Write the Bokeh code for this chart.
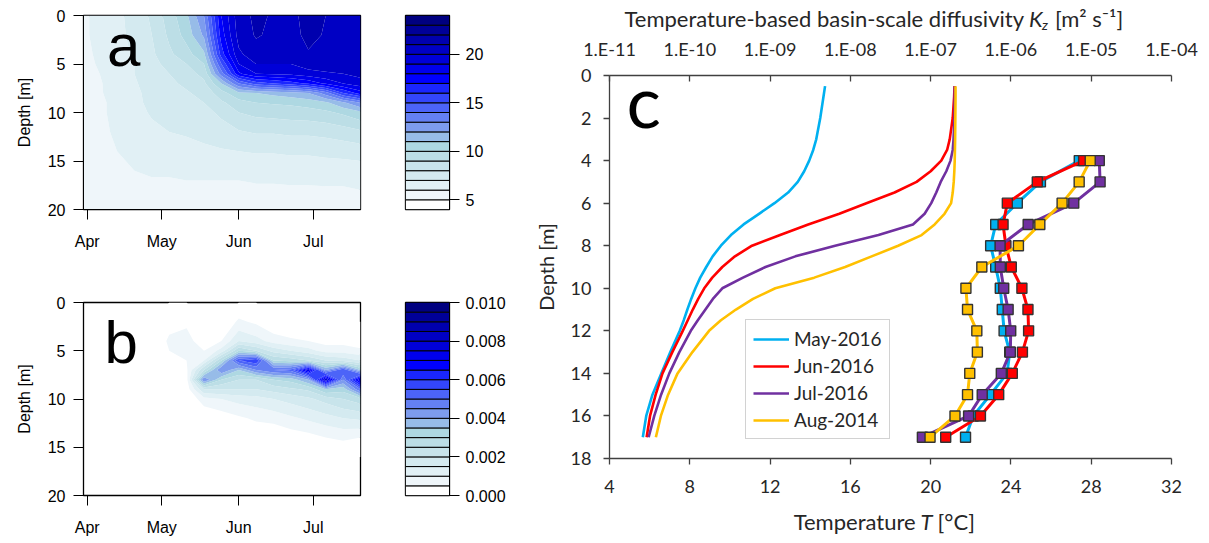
import numpy as np
import pandas as pd
from bokeh.plotting import figure
from bokeh.layouts import row, column
from bokeh.models import (Range1d, LogScale, LogAxis, FixedTicker, CustomJSTickFormatter,
                          Legend, LegendItem, Label, DatetimeTickFormatter, NumeralTickFormatter)
from bokeh.embed import file_html
from bokeh.resources import INLINE

# ---------------- data: panels a and b (time x depth fields) ----------------
dates_ab = ["2016-03-30", "2016-04-06", "2016-04-13", "2016-04-20", "2016-04-27",
            "2016-05-04", "2016-05-11", "2016-05-18", "2016-05-25", "2016-06-01",
            "2016-06-08", "2016-06-15", "2016-06-22", "2016-06-29", "2016-07-06",
            "2016-07-13", "2016-07-20"]
month_ticks = ["2016-04-01", "2016-05-01", "2016-06-01", "2016-07-01"]

depth_a = [0, 2, 4, 5, 6, 7, 8, 9, 10, 12, 14, 16, 18, 20]
# water temperature [degC], one list per date (values at depth_a)
temp_a = [
    [5.8, 5.8, 5.7, 5.7, 5.6, 5.6, 5.5, 5.5, 5.5, 5.4, 5.4, 5.3, 5.3, 5.2],
    [6.3, 6.3, 6.2, 6.1, 6.0, 5.9, 5.9, 5.8, 5.8, 5.7, 5.6, 5.5, 5.4, 5.3],
    [6.8, 6.8, 6.7, 6.6, 6.6, 6.5, 6.4, 6.3, 6.3, 6.2, 6.0, 5.8, 5.6, 5.4],
    [7.3, 7.2, 7.1, 7.0, 7.0, 6.9, 6.8, 6.8, 6.7, 6.5, 6.3, 6.0, 5.7, 5.5],
    [8.2, 8.0, 7.8, 7.6, 7.5, 7.4, 7.3, 7.2, 7.1, 6.8, 6.5, 6.1, 5.8, 5.6],
    [9.5, 9.2, 8.8, 8.4, 8.0, 7.8, 7.6, 7.4, 7.3, 7.0, 6.6, 6.1, 5.8, 5.6],
    [10.8, 10.4, 9.6, 9.0, 8.6, 8.2, 7.9, 7.7, 7.5, 7.1, 6.7, 6.2, 5.8, 5.6],
    [13.0, 12.2, 10.8, 10.0, 9.3, 8.8, 8.3, 8.0, 7.7, 7.3, 6.8, 6.2, 5.8, 5.6],
    [18.0, 17.5, 16.5, 15.0, 13.5, 11.0, 9.6, 8.8, 8.2, 7.6, 6.9, 6.2, 5.8, 5.6],
    [20.6, 20.4, 19.8, 19.0, 17.8, 14.0, 10.8, 9.6, 9.0, 7.9, 7.0, 6.2, 5.8, 5.6],
    [21.2, 21.1, 20.6, 20.0, 19.0, 15.5, 11.0, 10.0, 9.3, 8.1, 7.1, 6.2, 5.9, 5.6],
    [20.9, 20.8, 20.5, 20.0, 19.2, 16.0, 11.3, 10.1, 9.4, 8.1, 7.1, 6.2, 5.9, 5.6],
    [20.7, 20.6, 20.4, 20.0, 19.3, 16.5, 11.6, 10.2, 9.5, 8.2, 7.2, 6.3, 5.9, 5.6],
    [21.4, 21.3, 20.9, 20.5, 19.6, 17.2, 12.0, 10.4, 9.6, 8.2, 7.2, 6.3, 5.9, 5.6],
    [21.0, 20.9, 20.7, 20.4, 19.9, 18.2, 13.5, 10.8, 9.8, 8.3, 7.3, 6.4, 5.9, 5.6],
    [20.7, 20.6, 20.5, 20.3, 20.0, 19.0, 16.0, 11.8, 10.2, 8.5, 7.4, 6.4, 5.9, 5.6],
    [20.9, 20.8, 20.7, 20.6, 20.3, 19.6, 17.5, 13.0, 10.8, 8.8, 7.5, 6.5, 6.0, 5.6],
]

depth_b = [0, 2, 4, 5, 6, 7, 8, 9, 10, 12, 14, 16, 20]
# stability field, one list per date (values at depth_b)
field_b = [
    [0, 0, 0, 0, 0, 0, 0, 0, 0, 0, 0, 0, 0],
    [0, 0, 0, 0, 0, 0, 0, 0, 0, 0, 0, 0, 0],
    [0, 0, 0, 0, 0, 0, 0, 0, 0, 0, 0, 0, 0],
    [0, 0, 0, 0, 0, 0, 0, 0, 0, 0, 0, 0, 0],
    [0, 0, 0, 0, 0, 0, 0, 0, 0, 0, 0, 0, 0],
    [0, 0.0003, 0.0006, 0.0005, 0.0004, 0.0003, 0, 0, 0, 0, 0, 0, 0],
    [0, 0.0004, 0.0007, 0.0006, 0.0005, 0.0004, 0.0003, 0.0002, 0, 0, 0, 0, 0],
    [0, 0, 0.0002, 0.0005, 0.0010, 0.0025, 0.0045, 0.0020, 0.0008, 0, 0, 0, 0],
    [0, 0, 0.0005, 0.0012, 0.0030, 0.0045, 0.0030, 0.0020, 0.0010, 0.0002, 0, 0, 0],
    [0, 0.0006, 0.0015, 0.0030, 0.0055, 0.0035, 0.0025, 0.0020, 0.0012, 0.0004, 0, 0, 0],
    [0, 0.0004, 0.0012, 0.0025, 0.0060, 0.0045, 0.0025, 0.0020, 0.0013, 0.0006, 0, 0, 0],
    [0, 0, 0.0008, 0.0018, 0.0030, 0.0050, 0.0030, 0.0022, 0.0015, 0.0007, 0, 0, 0],
    [0, 0, 0.0006, 0.0015, 0.0028, 0.0052, 0.0032, 0.0024, 0.0017, 0.0009, 0.0002, 0, 0],
    [0, 0, 0.0005, 0.0012, 0.0025, 0.0075, 0.0040, 0.0026, 0.0019, 0.0011, 0.0003, 0, 0],
    [0, 0, 0.0003, 0.0008, 0.0020, 0.0040, 0.0080, 0.0035, 0.0022, 0.0013, 0.0005, 0, 0],
    [0, 0, 0.0003, 0.0008, 0.0018, 0.0055, 0.0045, 0.0032, 0.0025, 0.0015, 0.0006, 0, 0],
    [0, 0, 0.0002, 0.0006, 0.0015, 0.0035, 0.0075, 0.0050, 0.0028, 0.0016, 0.0005, 0, 0],
]

levels_a = list(range(4, 25))
ticks_a = [5, 10, 15, 20]
levels_b = [round(i * 0.0005, 4) for i in range(21)]
ticks_b = [0.0, 0.002, 0.004, 0.006, 0.008, 0.010]

palette = ["#FFFFFF", "#EFF6FA", "#E1F0F5", "#D4EAF0", "#C8E4EB", "#BCDEE6", "#AED8E2",
           "#97BCE8", "#7D9CEE", "#6480F3", "#4C64F8", "#3346FC", "#1A26FF", "#0000FF",
           "#0000EC", "#0000D8", "#0000C4", "#0000AE", "#000098", "#000080"]

# ---------------- data: panel c ----------------
series = ["May-2016", "Jun-2016", "Jul-2016", "Aug-2014"]
colors = ["#00B0F0", "#FF0000", "#7030A0", "#FFC000"]

depth_T = [0.5, 1, 2, 3, 3.5, 4, 4.5, 5, 5.5, 6, 6.5, 7, 7.5, 8, 8.5, 9, 9.5, 10, 10.5,
           11, 11.5, 12, 13, 14, 15, 16, 17]
temp_may = [14.74, 14.66, 14.50, 14.30, 14.15, 13.95, 13.70, 13.38, 12.90, 12.22, 11.45, 10.68,
            10.05, 9.55, 9.14, 8.82, 8.52, 8.28, 8.07, 7.88, 7.70, 7.50, 7.03, 6.58, 6.14, 5.83, 5.66]
temp_jun = [21.19, 21.17, 21.10, 20.95, 20.82, 20.53, 20.00, 19.30, 18.20, 16.80, 15.45, 13.90,
            12.50, 11.10, 10.25, 9.62, 9.12, 8.72, 8.42, 8.15, 7.90, 7.65, 7.13, 6.64, 6.30, 6.02, 5.85]
temp_jul = [21.20, 21.20, 21.19, 21.14, 21.10, 20.99, 20.78, 20.50, 20.28, 20.03, 19.70, 19.12,
            17.40, 15.24, 13.26, 11.77, 10.65, 9.62, 9.15, 8.78, 8.40, 8.05, 7.48, 6.98, 6.57, 6.23, 5.95]
temp_aug = [21.24, 21.24, 21.23, 21.22, 21.21, 21.20, 21.18, 21.15, 21.10, 21.02, 20.69, 20.20,
            19.55, 18.38, 17.06, 15.74, 14.20, 12.26, 11.15, 10.30, 9.55, 8.96, 8.13, 7.39, 6.92, 6.56, 6.31]

depth_K = [4, 5, 6, 7, 8, 9, 10, 11, 12, 13, 14, 15, 16, 17]
kz_may = [7.1e-6, 2.33e-6, 1.20e-6, 6.46e-7, 5.59e-7, 6.46e-7, 7.37e-7, 7.80e-7, 8.22e-7, 9.66e-7, 8.96e-7, 5.56e-7, 3.39e-7, 2.72e-7]
kz_jun = [8.04e-6, 2.13e-6, 9.02e-7, 7.98e-7, 8.66e-7, 1.01e-6, 1.37e-6, 1.63e-6, 1.66e-6, 1.39e-6, 1.04e-6, 7.04e-7, 4.17e-7, 1.54e-7]
kz_jul = [1.26e-5, 1.29e-5, 6.06e-6, 1.64e-6, 7.33e-7, 7.37e-7, 8.13e-7, 9.23e-7, 9.94e-7, 9.83e-7, 7.59e-7, 4.39e-7, 2.97e-7, 7.89e-8]
kz_aug = [9.72e-6, 7.08e-6, 4.34e-6, 2.29e-6, 1.24e-6, 4.34e-7, 2.75e-7, 2.88e-7, 3.76e-7, 3.82e-7, 3.07e-7, 2.88e-7, 2.01e-7, 9.83e-8]

temp_ticks = [4, 8, 12, 16, 20, 24, 28, 32]
kz_ticks = [1e-11, 1e-10, 1e-9, 1e-8, 1e-7, 1e-6, 1e-5, 1e-4]
depth_ticks_c = [0, 2, 4, 6, 8, 10, 12, 14, 16, 18]

# ---------------- helpers ----------------
def ms(s):
    return float((pd.Timestamp(s) - pd.Timestamp("1970-01-01")) // pd.Timedelta("1ms"))

R_FONT = "Liberation Sans"
C_FONT = "Lato"
AX_COL = "#404040"
TXT_COL = "#262626"

x_ab = np.array([ms(d) for d in dates_ab])


def field_panel(depths, field, levels, height, top, bottom, letter, letter_date, letter_depth):
    f = figure(width=395, height=height, x_axis_type="datetime",
               x_range=Range1d(ms("2016-03-30 12:00"), ms("2016-07-20")),
               y_range=Range1d(20, 0), output_backend="svg", toolbar_location=None,
               min_border_left=83, min_border_right=35, min_border_top=top,
               min_border_bottom=bottom)
    z = np.array(field, dtype=float).T
    f.contour(x=x_ab, y=np.array(depths, dtype=float), z=z, levels=levels,
              fill_color=palette, line_color=None)
    f.grid.visible = False
    f.outline_line_color = "black"
    f.outline_line_width = 1.3
    f.outline_line_alpha = 1
    f.background_fill_color = "white"
    f.yaxis.ticker = FixedTicker(ticks=[0, 5, 10, 15, 20])
    f.xaxis.ticker = FixedTicker(ticks=[ms(d) for d in month_ticks])
    f.xaxis.formatter = DatetimeTickFormatter(days="%b", months="%b", years="%b")
    for ax in (f.xaxis, f.yaxis):
        ax.axis_line_color = "black"
        ax.major_tick_line_color = "black"
        ax.major_tick_out = 10
        ax.major_tick_in = 0
        ax.minor_tick_line_color = None
        ax.major_label_text_font = R_FONT
        ax.major_label_text_font_size = "16px"
        ax.major_label_text_color = "black"
    f.xaxis.major_label_standoff = 13
    f.yaxis.major_label_standoff = 8
    f.yaxis.axis_label = "Depth [m]"
    f.yaxis.axis_label_text_font = R_FONT
    f.yaxis.axis_label_text_font_size = "16px"
    f.yaxis.axis_label_text_font_style = "normal"
    f.yaxis.axis_label_text_color = "black"
    f.yaxis.axis_label_standoff = 12
    f.add_layout(Label(x=ms(letter_date), y=letter_depth, text=letter, text_font=R_FONT,
                       text_font_size="60px", text_baseline="alphabetic", text_align="left",
                       text_color="black"))
    return f


def colorbar_panel(levels, ticks, fmt, height, top, bottom):
    f = figure(width=135, height=height, x_range=Range1d(0, 1),
               y_range=Range1d(levels[0], levels[-1]), x_axis_location=None,
               y_axis_location="right", output_backend="svg", toolbar_location=None,
               min_border_left=10, min_border_right=81, min_border_top=top,
               min_border_bottom=bottom)
    f.quad(left=0, right=1, bottom=levels[:-1], top=levels[1:], fill_color=palette,
           line_color="black", line_width=1)
    f.grid.visible = False
    f.outline_line_color = "black"
    f.outline_line_width = 1.3
    ax = f.yaxis
    ax.ticker = FixedTicker(ticks=ticks)
    if fmt:
        ax.formatter = NumeralTickFormatter(format=fmt)
    ax.axis_line_color = "black"
    ax.major_tick_line_color = "black"
    ax.major_tick_out = 10
    ax.major_tick_in = 0
    ax.minor_tick_line_color = None
    ax.major_label_text_font = R_FONT
    ax.major_label_text_font_size = "16px"
    ax.major_label_text_color = "black"
    ax.major_label_standoff = 6
    return f


fa = field_panel(depth_a, temp_a, levels_a, 262, 15, 53, "a", "2016-04-09", 3.1)
fca = colorbar_panel(levels_a, ticks_a, None, 262, 15, 53)
fb = field_panel(depth_b, field_b, levels_b, 278, 40, 45, "b", "2016-04-08", 4.1)
fcb = colorbar_panel(levels_b, ticks_b, "0.000", 278, 40, 45)

# ---------------- panel c ----------------
C_W = 675
x_rng = Range1d(4, 32)


def text_strip(height):
    f = figure(width=C_W, height=height, x_range=x_rng, y_range=Range1d(0, 1),
               x_axis_location=None, y_axis_location=None, output_backend="svg",
               toolbar_location=None, min_border_left=76, min_border_right=34,
               min_border_top=0, min_border_bottom=0)
    f.grid.visible = False
    f.outline_line_color = None
    return f


def add_piece(f, x, y, text, size, italic=False, align="left", x_off=0, y_off=0):
    f.add_layout(Label(x=x, y=y, x_offset=x_off, y_offset=y_off, text=text, text_font=C_FONT,
                       text_font_size=size, text_font_style="italic" if italic else "normal",
                       text_align=align, text_baseline="middle", text_color=TXT_COL))


# title strip (top axis title)
ft = text_strip(34)
K_X = 24.9
add_piece(ft, K_X, 0.47, "Temperature-based basin-scale diffusivity", "22px", align="right", x_off=-5)
add_piece(ft, K_X, 0.47, "K", "22px", italic=True)
add_piece(ft, K_X, 0.47, "z", "14px", italic=True, x_off=13, y_off=-6)
add_piece(ft, K_X, 0.47, "[m² s⁻¹]", "22px", x_off=26)

fc = figure(width=C_W, height=470, x_range=x_rng, y_range=Range1d(18, 0),
            output_backend="svg", toolbar_location=None,
            min_border_left=76, min_border_right=34, min_border_top=41, min_border_bottom=46)
fc.extra_x_ranges = {"kz": Range1d(1e-11, 1e-4)}
fc.extra_x_scales = {"kz": LogScale()}
fc.grid.visible = False
fc.outline_line_color = None

bottom_axis = fc.below[0]
bottom_axis.ticker = FixedTicker(ticks=temp_ticks)
fc.yaxis.ticker = FixedTicker(ticks=depth_ticks_c)

top_axis = LogAxis(x_range_name="kz", ticker=FixedTicker(ticks=kz_ticks),
                   formatter=CustomJSTickFormatter(code="""
const e = Math.round(Math.log10(tick));
return '1.E' + (e < 0 ? '-' : '+') + String(Math.abs(e)).padStart(2, '0');
"""))
fc.add_layout(top_axis, "above")

for ax in [bottom_axis, top_axis] + list(fc.yaxis):
    ax.axis_line_color = AX_COL
    ax.axis_line_width = 1.3
    ax.major_tick_line_color = AX_COL
    ax.major_tick_line_width = 1.3
    ax.minor_tick_line_color = None
    ax.major_label_text_font = C_FONT
    ax.major_label_text_font_size = "18px"
    ax.major_label_text_color = TXT_COL
fc.yaxis.major_tick_out = 6
fc.yaxis.major_tick_in = 0
fc.yaxis.major_label_standoff = 12
fc.yaxis.axis_label = "Depth [m]"
fc.yaxis.axis_label_text_font = C_FONT
fc.yaxis.axis_label_text_font_size = "20px"
fc.yaxis.axis_label_text_font_style = "normal"
fc.yaxis.axis_label_text_color = TXT_COL
fc.yaxis.axis_label_standoff = 10
bottom_axis.major_tick_out = 6
bottom_axis.major_tick_in = 0
bottom_axis.major_label_standoff = 15
top_axis.major_tick_out = 0
top_axis.major_tick_in = 6
top_axis.major_label_standoff = 16

temps = [temp_may, temp_jun, temp_jul, temp_aug]
kzs = [kz_may, kz_jun, kz_jul, kz_aug]
items = []
for name, col, t in zip(series, colors, temps):
    r = fc.line(x=t, y=depth_T, line_color=col, line_width=2.6, line_join="round")
    items.append(LegendItem(label=name, renderers=[r]))
for name, col, k in zip(series, colors, kzs):
    fc.line(x=k, y=depth_K, line_color=col, line_width=3, x_range_name="kz")
    fc.scatter(x=k, y=depth_K, marker="square", size=10, fill_color=col,
               line_color="#333333", line_width=1.4, x_range_name="kz")

legend = Legend(items=items, location=(136, 19), label_text_font=C_FONT,
                label_text_font_size="19px", label_text_color=TXT_COL,
                glyph_width=36, glyph_height=18, label_standoff=5, spacing=4,
                padding=7, margin=0, border_line_color="#A6A6A6", border_line_width=1.5,
                background_fill_alpha=1)
fc.add_layout(legend, "center")

fc.add_layout(Label(x=4.85, y=1.17, text="c", text_font=C_FONT, text_font_size="72px",
                    text_baseline="alphabetic", text_align="left", text_color="black"))

# bottom axis title strip
fx = text_strip(36)
T_X = 19.5
add_piece(fx, T_X, 0.53, "Temperature", "22px", align="right", x_off=-5)
add_piece(fx, T_X, 0.53, "T", "22px", italic=True)
add_piece(fx, T_X, 0.53, "[°C]", "22px", x_off=17)

layout = row(column(row(fa, fca), row(fb, fcb)), column(ft, fc, fx))
open("out.html", "w").write(file_html(layout, INLINE))
